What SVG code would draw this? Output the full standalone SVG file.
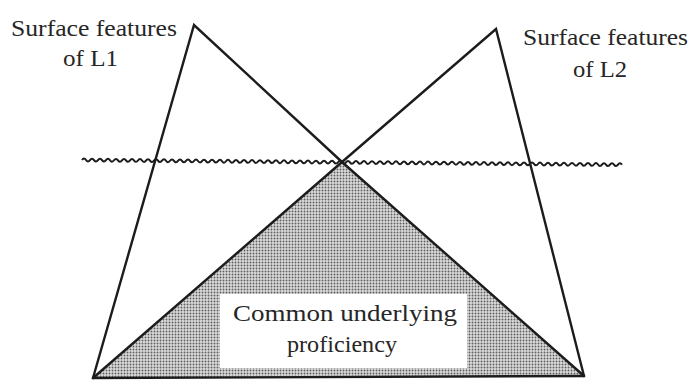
<svg xmlns="http://www.w3.org/2000/svg" width="692" height="381" viewBox="0 0 692 381">
  <style>
    .edge { fill: none; stroke: #1c1c1c; stroke-width: 2.4; stroke-linejoin: miter; stroke-linecap: round; }
    .wave { fill: none; stroke: #1c1c1c; stroke-width: 2; }
  </style>
  <defs>
    <pattern id="stipple" width="3" height="3" patternUnits="userSpaceOnUse">
      <rect width="3" height="3" fill="#dcdcdc"/>
      <circle cx="1.5" cy="1.5" r="0.95" fill="#5e5e5e"/>
    </pattern>
  </defs>
  <rect width="692" height="381" fill="#ffffff"/>

  <!-- shared region below the waterline -->
  <g id="shared-area">
    <polygon points="342,162 93,378 584,376" fill="url(#stipple)"/>
  </g>

  <g id="connectors">
    <!-- L1 triangle -->
    <polyline class="edge" points="93,378 194,25 342,162 584,376"/>
    <!-- L2 triangle -->
    <polyline class="edge" points="584,376 496,29 342,162 93,378"/>
    <!-- base -->
    <line class="edge" x1="93" y1="378" x2="584" y2="376"/>
    <!-- waterline -->
    <path class="wave" transform="rotate(0.5 82 160)" d="M82 160 q2 -2.8 4 0 t4 0 t4 0 t4 0 t4 0 t4 0 t4 0 t4 0 t4 0 t4 0 t4 0 t4 0 t4 0 t4 0 t4 0 t4 0 t4 0 t4 0 t4 0 t4 0 t4 0 t4 0 t4 0 t4 0 t4 0 t4 0 t4 0 t4 0 t4 0 t4 0 t4 0 t4 0 t4 0 t4 0 t4 0 t4 0 t4 0 t4 0 t4 0 t4 0 t4 0 t4 0 t4 0 t4 0 t4 0 t4 0 t4 0 t4 0 t4 0 t4 0 t4 0 t4 0 t4 0 t4 0 t4 0 t4 0 t4 0 t4 0 t4 0 t4 0 t4 0 t4 0 t4 0 t4 0 t4 0 t4 0 t4 0 t4 0 t4 0 t4 0 t4 0 t4 0 t4 0 t4 0 t4 0 t4 0 t4 0 t4 0 t4 0 t4 0 t4 0 t4 0 t4 0 t4 0 t4 0 t4 0 t4 0 t4 0 t4 0 t4 0 t4 0 t4 0 t4 0 t4 0 t4 0 t4 0 t4 0 t4 0 t4 0 t4 0 t4 0 t4 0 t4 0 t4 0 t4 0 t4 0 t4 0 t4 0 t4 0 t4 0 t4 0 t4 0 t4 0 t4 0 t4 0 t4 0 t4 0 t4 0 t4 0 t4 0 t4 0 t4 0 t4 0 t4 0 t4 0 t4 0 t4 0 t4 0 t4 0 t4 0 t4 0 t4 0 t4 0 t4 0 t4 0"/>
  </g>

  <g id="label-l1" font-family="Liberation Serif, DejaVu Serif, serif" font-size="23" fill="#262626">
    <text x="11" y="36" textLength="166" lengthAdjust="spacingAndGlyphs">Surface features</text>
    <text x="63" y="66" textLength="55" lengthAdjust="spacingAndGlyphs">of L1</text>
  </g>

  <g id="label-l2" font-family="Liberation Serif, DejaVu Serif, serif" font-size="23" fill="#262626">
    <text x="523" y="45" textLength="165" lengthAdjust="spacingAndGlyphs">Surface features</text>
    <text x="573" y="77" textLength="54" lengthAdjust="spacingAndGlyphs">of L2</text>
  </g>

  <g id="label-cup" font-family="Liberation Serif, DejaVu Serif, serif" font-size="23" fill="#262626">
    <rect x="220" y="294" width="247" height="74" fill="#ffffff"/>
    <text x="233" y="321" textLength="224" lengthAdjust="spacingAndGlyphs">Common underlying</text>
    <text x="287" y="352" textLength="110" lengthAdjust="spacingAndGlyphs">proficiency</text>
  </g>
</svg>
